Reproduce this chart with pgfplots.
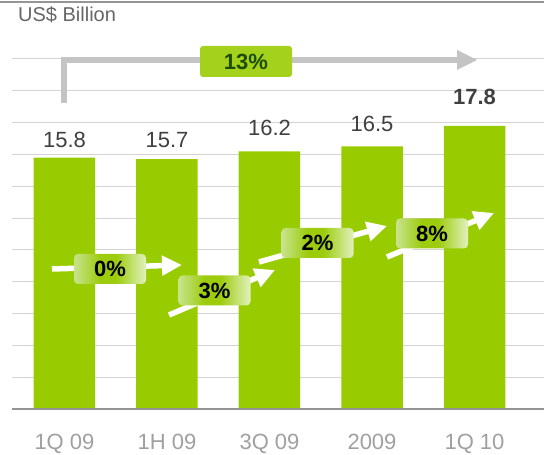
\documentclass[border=0pt]{standalone}
\usepackage{pgfplots}
\pgfplotsset{compat=1.18}
\usepackage{fontspec}
\setmainfont{Liberation Sans}
\usetikzlibrary{arrows.meta}

\definecolor{barg}{HTML}{99CC00}
\definecolor{gridc}{HTML}{D4D4D4}
\definecolor{basec}{HTML}{959595}
\definecolor{ticktxt}{HTML}{A0A0A0}
\definecolor{valtxt}{HTML}{404040}
\definecolor{bigarr}{HTML}{C4C4C4}
\definecolor{box13}{HTML}{A4D21C}
\definecolor{txt13}{HTML}{1E4D00}
\definecolor{boxlt}{HTML}{C8E38E}
\definecolor{boxmid}{HTML}{9CCC0C}
\definecolor{boxrt}{HTML}{E2F1BE}

\pgfdeclarehorizontalshading{pctbox}{100bp}{color(0bp)=(boxlt); color(25bp)=(boxlt);
    color(43bp)=(boxmid); color(54bp)=(boxmid); color(75bp)=(boxrt); color(100bp)=(boxrt)}

\newcommand{\bigtxt}{\fontsize{22}{24}\selectfont}

\begin{document}
\begin{tikzpicture}[x=1pt,y=1pt]
    \path[use as bounding box] (0,0) rectangle (544,455);

    % frame line and unit
    \draw[line width=2pt, color=basec] (0,453) -- (544,453);
    \node[anchor=west, inner sep=0, text=valtxt!80, font=\fontsize{20}{22}\selectfont]
        at (18,440) {US\$ Billion};

    \begin{axis}[
        at={(12pt,46pt)}, anchor=south west,
        scale only axis,
        width=532pt, height=350pt,
        ybar, bar width=61.5pt,
        xmin=-0.512, xmax=4.678,
        ymin=0, ymax=22,
        axis line style={draw=none},
        tick style={draw=none},
        ytick={2,4,...,22}, yticklabels={},
        ymajorgrids, grid style={draw=gridc, line width=1pt},
        xtick={0,1,2,3,4},
        xticklabels={1Q 09,1H 09,3Q 09,2009,1Q 10},
        xticklabel style={anchor=base, inner sep=0pt, yshift=-36pt, text=ticktxt, font=\bigtxt},
        clip=false
    ]
        \addplot[fill=barg, draw=none] coordinates {(0,15.8)(1,15.7)(2,16.2)(3,16.5)(4,17.8)};
        \draw[line width=2pt, color=basec] (axis cs:-0.512,0) -- (axis cs:4.678,0);

        \node[text=valtxt, font=\bigtxt] at (axis cs:0,15.8) [yshift=18pt] {15.8};
        \node[text=valtxt, font=\bigtxt] at (axis cs:1,15.7) [yshift=19pt] {15.7};
        \node[text=valtxt, font=\bigtxt] at (axis cs:2,16.2) [yshift=23pt] {16.2};
        \node[text=valtxt, font=\bigtxt] at (axis cs:3,16.5) [yshift=22.5pt] {16.5};
        \node[text=valtxt, font=\bigtxt\bfseries] at (axis cs:4,17.8) [yshift=29pt] {17.8};
    \end{axis}

    % overall growth arrow
    \draw[line width=6pt, color=bigarr, line join=miter] (63.5,352) -- (63.5,395) -- (459,395);
    \fill[bigarr] (457,405) -- (477,395) -- (457,385) -- cycle;
    \node[fill=box13, rounded corners=3pt, minimum width=92pt, minimum height=31pt,
          text=txt13, font=\bigtxt\bfseries] at (246,393.5) {13\%};

    % step arrows
    \tikzset{growarr/.style={draw=white, line width=5.5pt, -{Triangle[length=20pt, width=19pt]}},
             pbox/.style={rounded corners=4pt, shading=pctbox, draw=none, minimum width=72pt,
                          minimum height=30pt, font=\bigtxt\bfseries, text=black}}
    \draw[growarr] (52,186) -- (182,190);
    \node[pbox] at (110,186) {0\%};
    \draw[growarr] (169,140) -- (275,185);
    \node[pbox] at (214.5,164.5) {3\%};
    \draw[growarr] (259,193) -- (387,229);
    \node[pbox] at (317.5,212) {2\%};
    \draw[growarr] (387,198) -- (494,242);
    \node[pbox] at (432,221.5) {8\%};
\end{tikzpicture}
\end{document}
